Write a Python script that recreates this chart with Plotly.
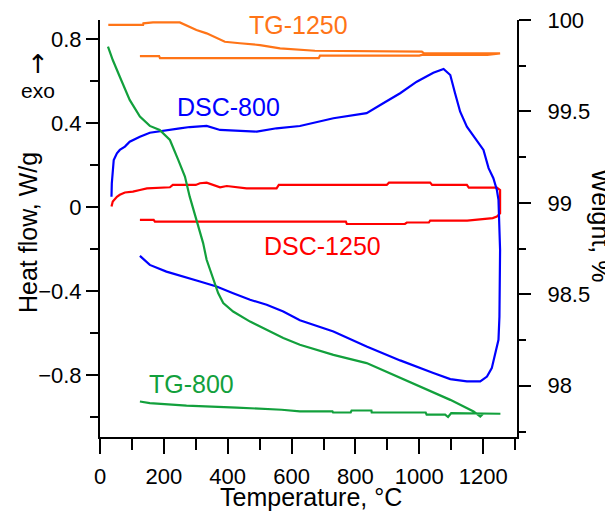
import plotly.graph_objects as go

# ---------------- data ----------------
# TG-1250 (weight %, right axis)
tg1250_heat_t = [26, 135, 136, 166, 250, 275, 302, 334, 365, 391, 438, 501, 564, 673, 1008, 1015, 1253]
tg1250_heat_w = [99.973, 99.973, 99.982, 99.987, 99.987, 99.967, 99.945, 99.927, 99.900, 99.881, 99.873, 99.863, 99.845, 99.832, 99.827, 99.818, 99.818]
tg1250_cool_t = [1253, 1213, 1008, 1000, 689, 685, 188, 185, 125]
tg1250_cool_w = [99.818, 99.809, 99.809, 99.805, 99.805, 99.791, 99.791, 99.803, 99.803]

# TG-800 (weight %, right axis)
tg800_heat_t = [25, 40, 62, 93, 125, 156, 187, 219, 245, 266, 281, 303, 323, 334, 355, 370, 386, 417, 470, 522,
                574, 626, 731, 835, 940, 1023, 1097, 1170, 1191, 1200, 1254]
tg800_heat_w = [99.854, 99.781, 99.690, 99.563, 99.472, 99.421, 99.399, 99.344, 99.235, 99.144, 99.034, 98.907,
                98.780, 98.689, 98.579, 98.507, 98.452, 98.406, 98.351, 98.306, 98.261, 98.224, 98.169, 98.124,
                98.042, 97.978, 97.923, 97.860, 97.832, 97.847, 97.847]
tg800_cool_t = [1254, 1100, 1090, 1081, 1023, 1020, 851, 850, 788, 785, 730, 728, 626, 569, 428, 271, 156, 125]
tg800_cool_w = [97.847, 97.851, 97.829, 97.842, 97.842, 97.854, 97.854, 97.865, 97.865, 97.854, 97.854, 97.860,
                97.860, 97.869, 97.881, 97.892, 97.905, 97.914]

# DSC-800 (heat flow W/g, left axis)
dsc800_heat_t = [36, 37, 43, 53, 62, 78, 93, 125, 156, 187, 219, 250, 281, 334, 376, 491, 553, 626, 731, 835,
                 887, 940, 992, 1044, 1076, 1097, 1112, 1128, 1149, 1180, 1201, 1217, 1232, 1243, 1248, 1253]
dsc800_heat_h = [0.050, 0.114, 0.225, 0.257, 0.273, 0.289, 0.312, 0.336, 0.355, 0.363, 0.368, 0.376, 0.382,
                 0.387, 0.368, 0.360, 0.376, 0.387, 0.424, 0.448, 0.495, 0.543, 0.598, 0.641, 0.659, 0.630,
                 0.543, 0.455, 0.384, 0.320, 0.273, 0.186, 0.138, 0.082, 0.035, -0.203]
dsc800_cool_t = [1253, 1251, 1248, 1238, 1227, 1212, 1191, 1149, 1097, 1044, 940, 835, 731, 626, 574, 522,
                 470, 417, 365, 313, 260, 208, 156, 125]
dsc800_cool_h = [-0.497, -0.521, -0.632, -0.695, -0.767, -0.807, -0.830, -0.830, -0.819, -0.790, -0.730, -0.664,
                 -0.592, -0.539, -0.497, -0.465, -0.441, -0.410, -0.378, -0.354, -0.330, -0.307, -0.275, -0.232]

# DSC-1250 (heat flow W/g, left axis)
dsc1250_heat_t = [36, 40, 53, 62, 78, 103, 125, 147, 219, 228, 300, 313, 334, 376, 397, 459, 553, 560, 898,
                  905, 1034, 1040, 1149, 1155, 1243, 1253, 1253]
dsc1250_heat_h = [0.003, 0.027, 0.050, 0.059, 0.070, 0.074, 0.082, 0.090, 0.095, 0.106, 0.106, 0.114, 0.117,
                  0.095, 0.101, 0.090, 0.090, 0.106, 0.106, 0.117, 0.117, 0.106, 0.106, 0.093, 0.093, 0.082,
                  -0.029]
dsc1250_cool_t = [1253, 1243, 1230, 1196, 1150, 1034, 1030, 961, 955, 773, 770, 172, 168, 125]
dsc1250_cool_h = [-0.029, -0.045, -0.052, -0.057, -0.064, -0.064, -0.073, -0.073, -0.080, -0.080, -0.069,
                  -0.069, -0.060, -0.060]

# curve label positions (temperature, heat flow)
labels = ["TG-1250", "DSC-800", "DSC-1250", "TG-800"]
label_t = [623, 401, 698, 287]
label_h = [0.868, 0.479, -0.184, -0.844]

ORANGE = "#FF7417"
BLUE = "#0000FF"
RED = "#FF0000"
GREEN = "#12A03C"
label_colors = [ORANGE, BLUE, RED, GREEN]
FONT = "Arial, Liberation Sans, sans-serif"

fig = go.Figure()
fig.add_trace(go.Scatter(x=tg1250_heat_t + tg1250_cool_t, y=tg1250_heat_w + tg1250_cool_w, yaxis="y2",
                         mode="lines", line=dict(color=ORANGE, width=2.2), showlegend=False))
fig.add_trace(go.Scatter(x=tg800_heat_t + tg800_cool_t, y=tg800_heat_w + tg800_cool_w, yaxis="y2",
                         mode="lines", line=dict(color=GREEN, width=2.2), showlegend=False))
fig.add_trace(go.Scatter(x=dsc1250_heat_t + dsc1250_cool_t, y=dsc1250_heat_h + dsc1250_cool_h,
                         mode="lines", line=dict(color=RED, width=2.2), showlegend=False))
fig.add_trace(go.Scatter(x=dsc800_heat_t + dsc800_cool_t, y=dsc800_heat_h + dsc800_cool_h,
                         mode="lines", line=dict(color=BLUE, width=2.2), showlegend=False))

annotations = []
for txt, t, h, c in zip(labels, label_t, label_h, label_colors):
    annotations.append(dict(x=t, y=h, xref="x", yref="y", text=txt, showarrow=False,
                            font=dict(size=25, color=c, family=FONT), xanchor="center", yanchor="middle"))
annotations += [
    dict(x=-0.1727, y=0.4916, xref="paper", yref="paper", text="Heat flow, W/g", textangle=-90,
         showarrow=False, font=dict(size=25, color="black", family=FONT), xanchor="center", yanchor="middle"),
    dict(x=1.2014, y=0.506, xref="paper", yref="paper", text="Weight, %", textangle=90,
         showarrow=False, font=dict(size=25, color="black", family=FONT), xanchor="center", yanchor="middle"),
    dict(x=0.507, y=-0.144, xref="paper", yref="paper", text="Temperature, °C",
         showarrow=False, font=dict(size=25, color="black", family=FONT), xanchor="center", yanchor="middle"),
    dict(x=-0.149, y=0.83, xref="paper", yref="paper", text="exo",
         showarrow=False, font=dict(size=21, color="black", family=FONT), xanchor="center", yanchor="middle"),
    dict(x=-0.149, y=0.894, xref="paper", yref="paper", text="↑",
         showarrow=False, font=dict(size=26, color="black", family="DejaVu Sans"), xanchor="center", yanchor="middle"),
]

# page body has an 8px default margin, so the plot area is placed 8px up/left to compensate
fig.update_layout(
    width=613, height=511,
    margin=dict(l=92, r=104, t=12, b=82, autoexpand=False),
    paper_bgcolor="white", plot_bgcolor="white",
    font=dict(family=FONT, size=22, color="black"),
    annotations=annotations,
    xaxis=dict(range=[0, 1306], tick0=0, dtick=200, ticks="outside", ticklen=15, tickwidth=2,
               tickcolor="black", showline=True, linewidth=2, linecolor="black", showgrid=False,
               zeroline=False, ticklabelstandoff=4, automargin=False,
               minor=dict(dtick=100, ticks="outside", ticklen=11, tickwidth=2, tickcolor="black")),
    yaxis=dict(range=[-1.095, 0.892], tick0=0, dtick=0.4, ticks="outside", ticklen=12, tickwidth=2,
               tickcolor="black", showline=True, linewidth=2, linecolor="black", showgrid=False,
               zeroline=False, automargin=False,
               minor=dict(dtick=0.2, ticks="outside", ticklen=8, tickwidth=2, tickcolor="black")),
    yaxis2=dict(range=[97.72, 100], overlaying="y", side="right", tick0=98, dtick=0.5, ticks="outside",
                ticklen=12, tickwidth=2, tickcolor="black", showline=True, linewidth=2, linecolor="black",
                showgrid=False, zeroline=False, automargin=False, ticklabelstandoff=12,
                ticklabeloverflow="allow",
                minor=dict(dtick=0.25, ticks="outside", ticklen=7, tickwidth=2, tickcolor="black")),
)

fig.write_html("out.html")
